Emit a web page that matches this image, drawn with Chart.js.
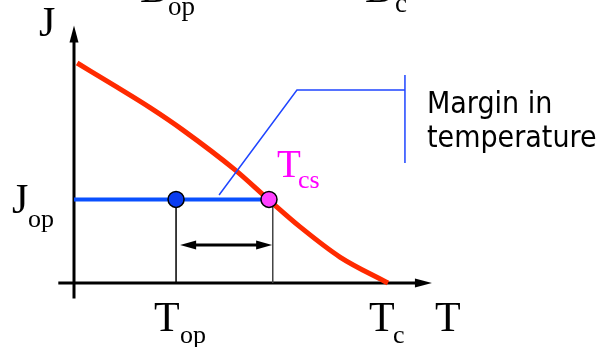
<!DOCTYPE html>
<html>
<head>
<meta charset="utf-8">
<script src="https://cdn.jsdelivr.net/npm/chart.js@4/dist/chart.umd.min.js"></script>
<style>
html,body{margin:0;padding:0;background:#fff;}
#wrap{width:606px;height:347px;position:relative;}
</style>
</head>
<body>
<div id="wrap"><canvas id="c" width="606" height="347"></canvas></div>
<script>
// ---- Data (temperature T in arbitrary units, Tc = 10; current density J normalised, J(0) = 1) ----
const CURVE_T = [0.1, 1.37, 2.42, 3.47, 5.13, 6.21, 7.2, 8.47, 10];
const CURVE_J = [1.0, 0.89, 0.797, 0.695, 0.514, 0.377, 0.255, 0.118, 0];
const T_OP = 3.25;
const T_CS = 6.21;
const T_CS_LINE = 6.33;
const J_OP = 0.38;
const MARGIN_ARROW_T = [3.38, 6.31];
const MARGIN_ARROW_J = 0.173;
const LEADER_T = [4.62, 7.10, 10.54];
const LEADER_J = [0.40, 0.877, 0.877];
const BRACKET_T = [10.54, 10.54];
const BRACKET_J = [0.945, 0.545];
const AXIS_T = [-0.5, 11.4];
const AXIS_J = [-0.07, 1.17];
const X_RANGE = [-2.357, 16.943];
const Y_RANGE = [-0.2909, 1.2864];

const zip = (xs, ys) => xs.map((x, i) => ({x, y: ys[i]}));

const SERIF = '"Liberation Serif", "Times New Roman", serif';
const SANS = '"DejaVu Sans Condensed", "DejaVu Sans", sans-serif';

function arrowHead(ctx, x1, y1, x2, y2, len, half) {
  const a = Math.atan2(y2 - y1, x2 - x1);
  ctx.beginPath();
  ctx.moveTo(x2, y2);
  ctx.lineTo(x2 - len * Math.cos(a) + half * Math.sin(a), y2 - len * Math.sin(a) - half * Math.cos(a));
  ctx.lineTo(x2 - len * Math.cos(a) - half * Math.sin(a), y2 - len * Math.sin(a) + half * Math.cos(a));
  ctx.closePath();
  ctx.fill();
}

const axesPlugin = {
  id: 'axesPlugin',
  beforeDatasetsDraw(chart) {
    const ctx = chart.ctx, xs = chart.scales.x, ys = chart.scales.y;
    const x0 = xs.getPixelForValue(0), y0 = ys.getPixelForValue(0);
    const xa = xs.getPixelForValue(AXIS_T[0]), xb = xs.getPixelForValue(AXIS_T[1]);
    const ya = ys.getPixelForValue(AXIS_J[0]), yb = ys.getPixelForValue(AXIS_J[1]);
    ctx.save();
    ctx.strokeStyle = '#000'; ctx.fillStyle = '#000'; ctx.lineWidth = 3;
    ctx.beginPath(); ctx.moveTo(xa, y0); ctx.lineTo(xb - 10, y0); ctx.stroke();
    arrowHead(ctx, xa, y0, xb, y0, 17, 4.5);
    ctx.beginPath(); ctx.moveTo(x0, ya); ctx.lineTo(x0, yb + 10); ctx.stroke();
    arrowHead(ctx, x0, ya, x0, yb, 17, 4.5);
    ctx.restore();
  },
  afterDatasetsDraw(chart) {
    const ctx = chart.ctx, xs = chart.scales.x, ys = chart.scales.y;
    const a = xs.getPixelForValue(MARGIN_ARROW_T[0]), b = xs.getPixelForValue(MARGIN_ARROW_T[1]);
    const y = ys.getPixelForValue(MARGIN_ARROW_J);
    ctx.save();
    ctx.strokeStyle = '#000'; ctx.fillStyle = '#000'; ctx.lineWidth = 3;
    ctx.beginPath(); ctx.moveTo(a + 10, y); ctx.lineTo(b - 10, y); ctx.stroke();
    arrowHead(ctx, a, y, b, y, 16, 4.5);
    arrowHead(ctx, b, y, a, y, 16, 4.5);
    ctx.restore();
  },
  afterDraw(chart) {
    const ctx = chart.ctx;
    ctx.save();
    ctx.textBaseline = 'alphabetic';
    ctx.textAlign = 'left';
    const txt = (s, x, y, size, color, font) => {
      ctx.font = size + 'px ' + (font || SERIF);
      ctx.fillStyle = color || '#000';
      ctx.fillText(s, x, y);
    };
    // cut-off labels at the top
    txt('B', 140, 1.5, 42); txt('op', 168, 15, 27);
    txt('B', 365, 1.5, 42); txt('c', 395, 12, 27);
    // axis labels
    txt('J', 39, 36, 42);
    txt('J', 12, 213, 42); txt('op', 28, 227, 26);
    txt('T', 154, 331, 42); txt('op', 180, 343, 26);
    txt('T', 369, 331, 42); txt('c', 393, 343, 26);
    txt('T', 435, 331, 42);
    txt('T', 277, 177, 39, '#ff00ff'); txt('cs', 298, 188, 26, '#ff00ff');
    // annotation
    txt('Margin in', 427, 113, 30, '#000', SANS);
    txt('temperature', 427, 147, 30, '#000', SANS);
    ctx.restore();
  }
};

new Chart(document.getElementById('c'), {
  type: 'scatter',
  data: {
    datasets: [
      { label: 'Tcs/Top points', order: 0,
        data: [{x: T_OP, y: J_OP}, {x: T_CS, y: J_OP}],
        showLine: false, pointRadius: 8, pointHoverRadius: 8,
        pointBackgroundColor: ['#0a3cf0', '#ff40ff'], pointBorderColor: '#000', pointBorderWidth: 1.5 },
      { label: 'Top drop', order: 1, data: [{x: T_OP, y: J_OP}, {x: T_OP, y: 0}],
        showLine: true, borderColor: '#000', borderWidth: 1.5, pointRadius: 0 },
      { label: 'Tcs drop', order: 1, data: [{x: T_CS_LINE, y: J_OP}, {x: T_CS_LINE, y: 0}],
        showLine: true, borderColor: '#444', borderWidth: 1.5, pointRadius: 0 },
      { label: 'leader', order: 2, data: zip(LEADER_T, LEADER_J),
        showLine: true, borderColor: '#1f45ff', borderWidth: 1.5, pointRadius: 0 },
      { label: 'bracket', order: 2, data: zip(BRACKET_T, BRACKET_J),
        showLine: true, borderColor: '#1f45ff', borderWidth: 1.5, pointRadius: 0 },
      { label: 'Jop', order: 3, data: [{x: 0, y: J_OP}, {x: T_CS, y: J_OP}],
        showLine: true, borderColor: '#0a50ff', borderWidth: 4, pointRadius: 0 },
      { label: 'Jc(T)', order: 4, data: zip(CURVE_T, CURVE_J),
        showLine: true, borderColor: '#ff2a00', borderWidth: 5, pointRadius: 0,
        tension: 0.3, cubicInterpolationMode: 'monotone' }
    ]
  },
  options: {
    responsive: false,
    animation: false,
    events: [],
    layout: { padding: 0, autoPadding: false },
    plugins: { legend: { display: false }, tooltip: { enabled: false } },
    scales: {
      x: { type: 'linear', min: X_RANGE[0], max: X_RANGE[1], display: false },
      y: { type: 'linear', min: Y_RANGE[0], max: Y_RANGE[1], display: false }
    },
    elements: { line: { borderCapStyle: 'butt' } }
  },
  plugins: [axesPlugin]
});
</script>
</body>
</html>
